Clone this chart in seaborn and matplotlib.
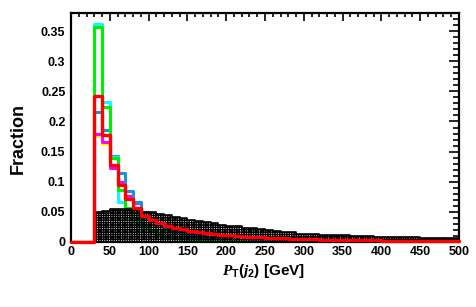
import matplotlib
matplotlib.use("Agg")
import matplotlib.pyplot as plt
import numpy as np
import pandas as pd
import seaborn as sns
from matplotlib.ticker import MultipleLocator, FuncFormatter

# bin edges: 10 GeV bins from 0 to 500, the samples start at 30 GeV
edges = list(range(0, 510, 10))
centers = [e + 5 for e in edges[:-1]]
n_empty = 3  # bins 0-30 are empty

# fraction per bin, starting at the 30-40 GeV bin
frac_black = [0.050, 0.052, 0.054, 0.055, 0.055, 0.053, 0.050, 0.049, 0.047, 0.044,
              0.042, 0.039, 0.037, 0.035, 0.033, 0.031, 0.029, 0.027, 0.026, 0.024,
              0.023, 0.021, 0.020, 0.018, 0.017, 0.016, 0.014, 0.013, 0.013, 0.012,
              0.012, 0.011, 0.011, 0.010, 0.010, 0.010, 0.009, 0.009, 0.009, 0.008,
              0.008, 0.008, 0.007, 0.007, 0.007, 0.006, 0.006]
frac_red = [0.243, 0.177, 0.128, 0.095, 0.071, 0.057, 0.043, 0.036, 0.031, 0.027,
            0.024, 0.021, 0.019, 0.016, 0.015, 0.013, 0.012, 0.011, 0.010, 0.009,
            0.008, 0.0075, 0.007, 0.0065, 0.006, 0.0055, 0.005, 0.0047, 0.0044, 0.0041,
            0.0038, 0.0035, 0.0033, 0.0031, 0.0029, 0.0027, 0.0026, 0.0024, 0.0023, 0.0022,
            0.0021, 0.002, 0.0019, 0.0018, 0.0017, 0.0016, 0.0015]
frac_green = [0.357, 0.224, 0.139, 0.086, 0.057, 0.040, 0.028, 0.020, 0.014, 0.010,
              0.008, 0.006, 0.005, 0.004, 0.003, 0.0025, 0.002, 0.0015, 0.0012, 0.001,
              0.0008, 0.0006, 0.0005, 0.0004, 0.0003, 0.0003, 0.0002, 0.0002, 0.0001, 0.0001,
              0.0, 0.0, 0.0, 0.0, 0.0, 0.0, 0.0, 0.0, 0.0, 0.0,
              0.0, 0.0, 0.0, 0.0, 0.0, 0.0, 0.0]
frac_cyan = [0.362, 0.232, 0.141, 0.067, 0.050, 0.035, 0.025, 0.018, 0.013, 0.009,
             0.007, 0.005, 0.004, 0.003, 0.0025, 0.002, 0.0015, 0.0012, 0.001, 0.0008,
             0.0006, 0.0005, 0.0004, 0.0003, 0.0003, 0.0002, 0.0002, 0.0001, 0.0001, 0.0,
             0.0, 0.0, 0.0, 0.0, 0.0, 0.0, 0.0, 0.0, 0.0, 0.0,
             0.0, 0.0, 0.0, 0.0, 0.0, 0.0, 0.0]
frac_blue = [0.216, 0.186, 0.142, 0.115, 0.085, 0.067, 0.050, 0.038, 0.029, 0.022,
             0.017, 0.013, 0.010, 0.008, 0.006, 0.005, 0.004, 0.003, 0.0025, 0.002,
             0.0016, 0.0013, 0.001, 0.0008, 0.0006, 0.0005, 0.0004, 0.0003, 0.0002, 0.0002,
             0.0001, 0.0001, 0.0, 0.0, 0.0, 0.0, 0.0, 0.0, 0.0, 0.0,
             0.0, 0.0, 0.0, 0.0, 0.0, 0.0, 0.0]
frac_magenta = [0.180, 0.166, 0.122, 0.100, 0.076, 0.065, 0.050, 0.040, 0.032, 0.026,
                0.021, 0.017, 0.014, 0.011, 0.009, 0.007, 0.006, 0.005, 0.004, 0.0035,
                0.003, 0.0025, 0.002, 0.0017, 0.0014, 0.0012, 0.001, 0.0008, 0.0007, 0.0006,
                0.0005, 0.0004, 0.0004, 0.0003, 0.0003, 0.0002, 0.0002, 0.0002, 0.0001, 0.0001,
                0.0001, 0.0001, 0.0, 0.0, 0.0, 0.0, 0.0]
frac_yellow = [0.176, 0.163, 0.124, 0.098, 0.078, 0.066, 0.049, 0.039, 0.031, 0.025,
               0.020, 0.016, 0.013, 0.010, 0.008, 0.007, 0.006, 0.005, 0.004, 0.0033,
               0.0028, 0.0023, 0.0019, 0.0016, 0.0013, 0.0011, 0.0009, 0.0008, 0.0007, 0.0006,
               0.0005, 0.0004, 0.0003, 0.0003, 0.0002, 0.0002, 0.0002, 0.0001, 0.0001, 0.0001,
               0.0, 0.0, 0.0, 0.0, 0.0, 0.0, 0.0]


def to_frame(vals):
    return pd.DataFrame({"pt": centers, "w": [0.0] * n_empty + list(vals)})


def main():
    sns.set_theme(style="white")
    plt.rcParams["font.family"] = ["Liberation Sans", "DejaVu Sans"]
    plt.rcParams["font.weight"] = "bold"
    plt.rcParams["text.color"] = "black"
    plt.rcParams["axes.labelcolor"] = "black"
    plt.rcParams["mathtext.fontset"] = "custom"
    plt.rcParams["mathtext.it"] = "Liberation Serif:italic"
    plt.rcParams["mathtext.rm"] = "Liberation Sans:bold"
    plt.rcParams["mathtext.bf"] = "Liberation Sans:bold"
    plt.rcParams["hatch.linewidth"] = 1.0

    fig = plt.figure(figsize=(4.77, 3.07), dpi=100)
    ax = fig.add_axes([71 / 477, 65 / 307, 388 / 477, 229 / 307])

    # coloured samples underneath the black one
    lines = [
        (frac_yellow, "#ffff00", 2.0),
        (frac_magenta, "#ff00ff", 2.2),
        (frac_blue, "#1f8fdc", 2.2),
        (frac_cyan, "#00ffff", 2.2),
        (frac_green, "#00ee00", 2.2),
    ]
    for i, (vals, col, lw) in enumerate(lines):
        sns.histplot(data=to_frame(vals), x="pt", weights="w", bins=edges,
                     element="step", fill=False, color=col, linewidth=lw,
                     ax=ax, zorder=2 + i)

    # black sample: dense black pattern with small holes
    sns.histplot(data=to_frame(frac_black), x="pt", weights="w", bins=edges,
                 element="step", fill=True, color="black", facecolor="none",
                 edgecolor="black", hatch="+++++++", linewidth=0, alpha=1,
                 ax=ax, zorder=8)
    sns.histplot(data=to_frame(frac_black), x="pt", weights="w", bins=edges,
                 element="step", fill=False, color="black", linewidth=1.2,
                 ax=ax, zorder=9)

    # red sample on top, also over the frame at the baseline
    sns.histplot(data=to_frame(frac_red), x="pt", weights="w", bins=edges,
                 element="step", fill=False, color="#ff0000", linewidth=2.4,
                 ax=ax, zorder=25, clip_on=False)

    ax.set_xlim(0, 500)
    ax.set_ylim(0, 0.38)
    ax.xaxis.set_major_locator(MultipleLocator(50))
    ax.xaxis.set_minor_locator(MultipleLocator(10))
    ax.yaxis.set_major_locator(MultipleLocator(0.05))
    ax.yaxis.set_minor_locator(MultipleLocator(0.01))
    ax.yaxis.set_major_formatter(FuncFormatter(lambda v, _: f"{v:g}"))
    ax.tick_params(which="both", direction="in", top=True, right=True,
                   width=1.2, labelsize=9, colors="black")
    ax.tick_params(axis="x", which="major", length=6, pad=3)
    ax.tick_params(axis="x", which="minor", length=3)
    ax.tick_params(axis="y", which="major", length=7, pad=4)
    ax.tick_params(axis="y", which="minor", length=4)
    for spine in ax.spines.values():
        spine.set_linewidth(1.6)
        spine.set_color("black")
        spine.set_zorder(20)

    ax.set_ylabel("Fraction", fontsize=13, fontweight="bold")
    ax.yaxis.set_label_coords(-0.113, 0.454)
    ax.set_xlabel(r"$P_{\mathrm{T}}(j_{2})$ [GeV]", fontsize=11, fontweight="bold")
    ax.xaxis.label.set_va("center")
    ax.xaxis.set_label_coords(0.495, -0.127)

    fig.savefig("out.png", dpi=100)


if __name__ == "__main__":
    main()
